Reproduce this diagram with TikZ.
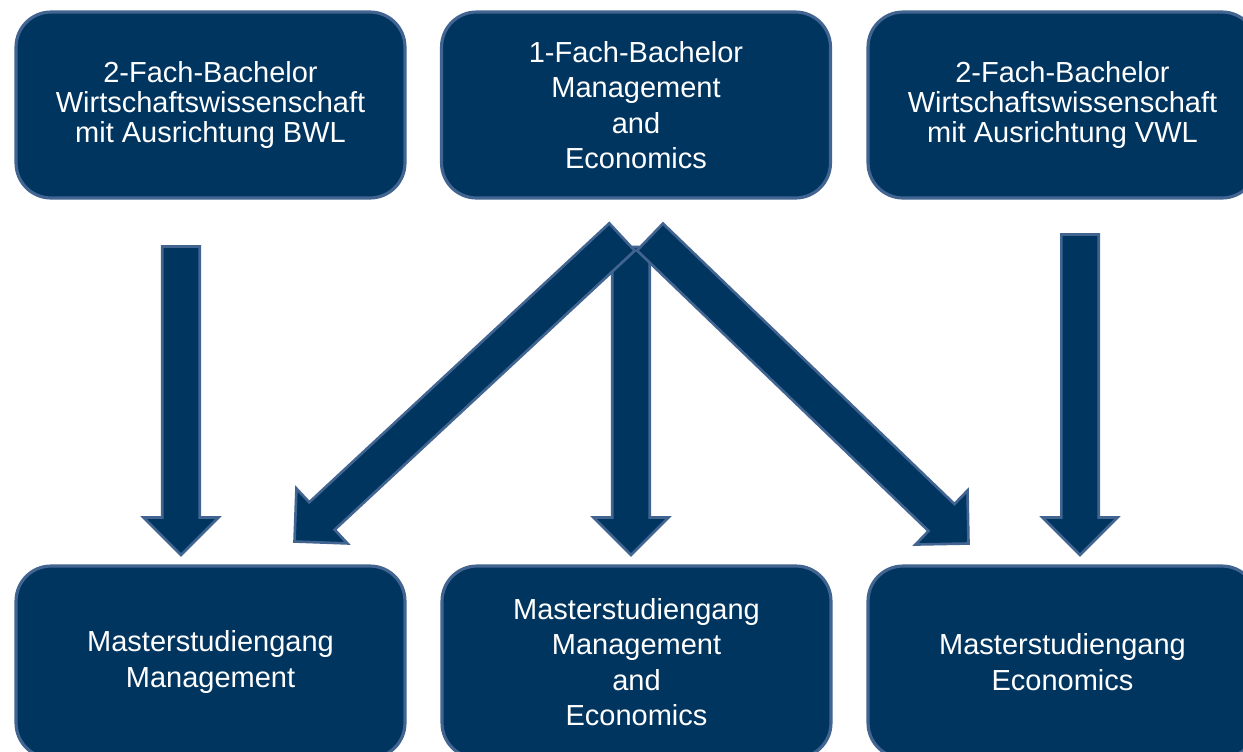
\documentclass[tikz,border=0pt]{standalone}
\usepackage{fontspec}
\setmainfont{Liberation Sans}
\usepackage{tikz}
\usetikzlibrary{calc}

\definecolor{navy}{RGB}{0,53,96}
\definecolor{navyedge}{RGB}{65,100,145}

\tikzset{
  course/.style={draw=navyedge, fill=navy, line width=1.8pt, rounded corners=0.7cm,
    minimum width=7.78cm, minimum height=3.72cm, text=white, align=center,
    font=\fontsize{16.5}{20.2}\selectfont},
  tight/.style={font=\fontsize{16.5}{17.3}\selectfont},
  fatarrow/.style={draw=navyedge, fill=navy, line width=1.5pt, line join=miter}
}

% block arrow from #1 to tip #2
\newcommand{\fatarrow}[2]{%
  \coordinate (hb) at ($(#2)!0.75cm!(#1)$);
  \draw[fatarrow] ($(#1)!0.374cm!90:(#2)$) -- ($(hb)!0.374cm!90:(#2)$)
    -- ($(hb)!0.75cm!90:(#2)$) -- (#2) -- ($(hb)!0.75cm!-90:(#2)$)
    -- ($(hb)!0.374cm!-90:(#2)$) -- ($(#1)!0.374cm!-90:(#2)$) -- cycle;
}

\begin{document}
\begin{tikzpicture}[x=0.02cm, y=-0.02cm]
\clip (0,0) rectangle (1243,751);
\begin{scope}
    \node[course, tight] (A) at (210.5,105) {2-Fach-Bachelor\\Wirtschaftswissenschaft\\mit Ausrichtung BWL};
    \node[course] (B) at (636,105) {1-Fach-Bachelor\\Management\\and\\Economics};
    \node[course, tight] (C) at (1062.5,105) {2-Fach-Bachelor\\Wirtschaftswissenschaft\\mit Ausrichtung VWL};

    \node[course, minimum height=3.84cm] (a) at (210.5,662) {Masterstudiengang\\Management};
    \node[course, minimum height=3.84cm] (b) at (636.5,662) {Masterstudiengang\\Management\\and\\Economics};
    \node[course, minimum height=3.84cm] (c) at (1062.5,662) {Masterstudiengang\\Economics};

    \coordinate (As) at (181,246.5);
    \coordinate (At) at (181,555);
    \coordinate (Bs) at (631,247);
    \coordinate (Bt) at (631,555);
    \coordinate (Bl) at (622,237);
    \coordinate (Blt) at (294.5,541.5);
    \coordinate (Br) at (650,237);
    \coordinate (Brt) at (968.5,543.5);
    \coordinate (Cs) at (1080,234.5);
    \coordinate (Ct) at (1080,555);

    \fatarrow{As}{At}
    \fatarrow{Bs}{Bt}
    \fatarrow{Bl}{Blt}
    \fatarrow{Br}{Brt}
    \fatarrow{Cs}{Ct}
\end{scope}
\end{tikzpicture}
\end{document}
